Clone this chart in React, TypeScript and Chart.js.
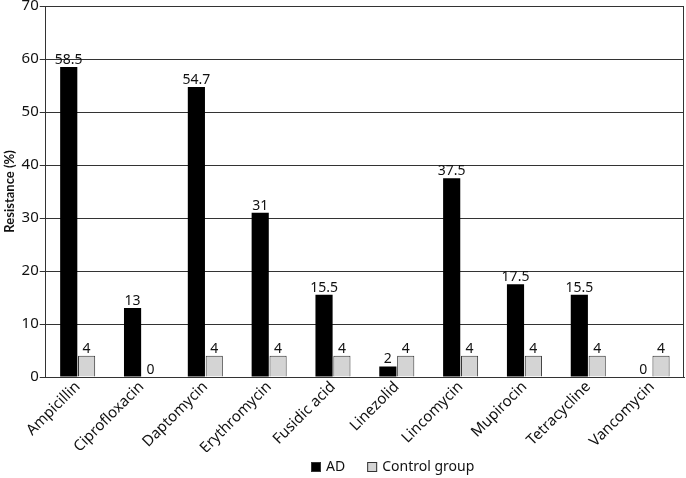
import React, { useEffect, useRef } from "react";
import { Chart, registerables } from "chart.js";

Chart.register(...registerables);

const categories = [
  "Ampicillin",
  "Ciprofloxacin",
  "Daptomycin",
  "Erythromycin",
  "Fusidic acid",
  "Linezolid",
  "Lincomycin",
  "Mupirocin",
  "Tetracycline",
  "Vancomycin",
];
const adValues = [58.5, 13, 54.7, 31, 15.5, 2, 37.5, 17.5, 15.5, 0];
const controlValues = [4, 0, 4, 4, 4, 4, 4, 4, 4, 4];
const seriesNames = ["AD", "Control group"];
const yTicks = [0, 10, 20, 30, 40, 50, 60, 70];

const FONT = "'Noto Sans', 'Open Sans', sans-serif";

const valueLabelPlugin = {
  id: "valueLabels",
  afterDatasetsDraw(chart: any) {
    const ctx = chart.ctx;
    ctx.save();
    ctx.font = `14px ${FONT}`;
    ctx.fillStyle = "#111";
    ctx.textAlign = "center";
    ctx.textBaseline = "bottom";
    chart.data.datasets.forEach((ds: any, di: number) => {
      const meta = chart.getDatasetMeta(di);
      meta.data.forEach((bar: any, i: number) => {
        const v = ds.data[i];
        ctx.fillText(String(v), bar.x, bar.y);
      });
    });
    ctx.restore();
  },
};

const framePlugin = {
  id: "frame",
  afterDatasetsDraw(chart: any) {
    const { ctx, chartArea } = chart;
    ctx.save();
    ctx.strokeStyle = "#333";
    ctx.lineWidth = 1;
    ctx.beginPath();
    ctx.moveTo(Math.round(chartArea.left) + 0.5, Math.round(chartArea.top) + 0.5);
    ctx.lineTo(Math.round(chartArea.right) - 0.5, Math.round(chartArea.top) + 0.5);
    ctx.lineTo(Math.round(chartArea.right) - 0.5, Math.round(chartArea.bottom) + 0.5);
    ctx.stroke();
    ctx.restore();
  },
};

const legendPlugin = {
  id: "customLegend",
  afterDraw(chart: any) {
    const ctx = chart.ctx;
    const ds = chart.data.datasets;
    ctx.save();
    ctx.font = `14px ${FONT}`;
    ctx.textBaseline = "middle";
    ctx.textAlign = "left";
    const box = 10;
    const gapText = 5;
    const gapItem = 22;
    let total = 0;
    ds.forEach((d: any, i: number) => {
      total += box + gapText + ctx.measureText(d.label).width;
      if (i < ds.length - 1) total += gapItem;
    });
    const cx = (chart.chartArea.left + chart.chartArea.right) / 2 + 28;
    let x = Math.round(cx - total / 2);
    const cy = 467;
    ds.forEach((d: any) => {
      ctx.fillStyle = d.backgroundColor;
      ctx.fillRect(x, cy - box / 2, box, box);
      ctx.strokeStyle = "#333";
      ctx.lineWidth = 1;
      ctx.strokeRect(x + 0.5, cy - box / 2 + 0.5, box - 1, box - 1);
      x += box + gapText;
      ctx.fillStyle = "#111";
      ctx.fillText(d.label, x, cy);
      x += ctx.measureText(d.label).width + gapItem;
    });
    ctx.restore();
  },
};

export default function App() {
  const ref = useRef<HTMLCanvasElement | null>(null);

  useEffect(() => {
    document.body.style.margin = "0";
    const chart = new Chart(ref.current as HTMLCanvasElement, {
      type: "bar",
      data: {
        labels: categories,
        datasets: [
          {
            label: seriesNames[0],
            data: adValues,
            backgroundColor: "#000000",
            borderColor: "#000000",
            borderWidth: 0,
            categoryPercentage: 0.56,
            barPercentage: 0.96,
          },
          {
            label: seriesNames[1],
            data: controlValues,
            backgroundColor: "#d4d4d4",
            borderColor: "#333333",
            borderWidth: 1,
            categoryPercentage: 0.56,
            barPercentage: 0.96,
          },
        ],
      },
      options: {
        animation: false,
        responsive: false,
        layout: { padding: { left: 2, right: 2, top: 6, bottom: 26 } },
        plugins: {
          tooltip: { enabled: false },
          legend: { display: false },
        },
        scales: {
          x: {
            grid: { display: false, drawTicks: false },
            border: { display: true, color: "#333" },
            afterFit: (scale: any) => {
              scale.height = 75;
            },
            ticks: {
              maxRotation: 45,
              minRotation: 45,
              color: "#111",
              font: { family: FONT, size: 15 },
              padding: 1,
            },
          },
          y: {
            min: 0,
            max: 70,
            afterBuildTicks: (scale: any) => {
              scale.ticks = yTicks.map((v) => ({ value: v }));
            },
            afterFit: (scale: any) => {
              scale.paddingTop = 0;
            },
            grid: {
              color: "#333",
              lineWidth: 1,
              drawTicks: true,
              tickLength: 6,
              tickColor: "#333",
            },
            border: { display: true, color: "#333" },
            ticks: {
              color: "#111",
              font: { family: FONT, size: 15 },
              padding: 1,
            },
            title: {
              display: true,
              text: "Resistance (%)",
              color: "#111",
              font: { family: "Lato, 'Noto Sans', sans-serif", size: 13, weight: "bold" },
              padding: { top: 0, bottom: 3 },
            },
          },
        },
      },
      plugins: [valueLabelPlugin, framePlugin, legendPlugin],
    });
    return () => chart.destroy();
  }, []);

  return (
    <div style={{ width: 686, height: 478 }}>
      <canvas ref={ref} width={686} height={478} />
    </div>
  );
}
